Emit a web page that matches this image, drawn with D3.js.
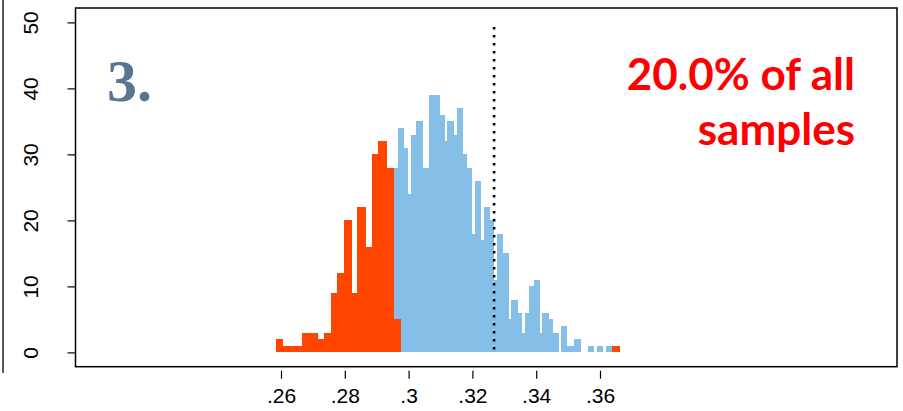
<!DOCTYPE html>
<html><head><meta charset="utf-8">
<script src="https://cdn.jsdelivr.net/npm/d3@7"></script>
<style>html,body{margin:0;padding:0;background:#fff;}svg{display:block;}</style>
</head><body>
<svg id="chart" width="903" height="411"></svg>
<script>
// bin edges (x, proportion) and counts per bin
const binEdges = [0.25834,0.26072,0.26668,0.27169,0.27348,0.27552,0.27765,0.27984,0.28241,0.28392,
  0.28665,0.28843,0.29050,0.29313,0.29542,0.29658,0.29752,0.29856,0.29981,0.30075,
  0.30232,0.30436,0.30649,0.30984,0.31141,0.31219,0.31423,0.31502,0.31715,0.31846,
  0.32003,0.32088,0.32279,0.32370,0.32558,0.32671,0.32781,0.32959,0.33132,0.33210,
  0.33414,0.33564,0.33639,0.33784,0.33922,0.34119,0.34197,0.34392,0.34542,0.34705,
  0.34777,0.34981,0.35185,0.35389,0.35624,0.35821,0.35906,0.36100,0.36194,0.36382,0.36627];
const allCounts = [2,1,3,2,3,9,12,20,9,22, 16,30,32,28,28,34,34,31,24,33,
  35,28,39,36,32,35,33,37,30,28, 18,26,17,22,20,11,18,15,5,8,
  6,3,6,10,11,3,6,5,3,0, 4,1,2,0,1,0,1,0,1,1];
const tailCounts = [2,1,3,2,3,9,12,20,9,22, 16,30,32,28,5,5,0,0,0,0,
  0,0,0,0,0,0,0,0,0,0, 0,0,0,0,0,0,0,0,0,0,
  0,0,0,0,0,0,0,0,0,0, 0,0,0,0,0,0,0,0,0,1];
const cutoff = 0.3268;
const cutoffTop = 49.3;
const xTicks = [0.26,0.28,0.30,0.32,0.34,0.36];
const xTickLabels = [".26",".28",".3",".32",".34",".36"];
const yTicks = [0,10,20,30,40,50];
const panelLabel = "3.";
const noteLines = ["20.0% of all","samples"];

const svg = d3.select("#chart");
const box = {left:75.5, right:897, top:8, bottom:366.7};
const x = d3.scaleLinear().domain([0.26,0.36]).range([281,600]);
const y = d3.scaleLinear().domain([0,50]).range([352.4,22.4]);

// outer frame fragment
svg.append("line").attr("x1",3).attr("x2",3).attr("y1",0).attr("y2",373)
  .attr("stroke","#000").attr("stroke-width",1.3);

const bins = allCounts.map((c,i)=>({x0:binEdges[i], x1:binEdges[i+1], all:c, tail:tailCounts[i]}));

svg.append("g").selectAll("rect").data(bins.filter(d=>d.all>0)).join("rect")
  .attr("x",d=>x(d.x0)).attr("width",d=>x(d.x1)-x(d.x0))
  .attr("y",d=>y(d.all)).attr("height",d=>y(0)-y(d.all))
  .attr("fill","#85bfe8").attr("shape-rendering","crispEdges");
svg.append("g").selectAll("rect").data(bins.filter(d=>d.tail>0)).join("rect")
  .attr("x",d=>x(d.x0)).attr("width",d=>x(d.x1)-x(d.x0))
  .attr("y",d=>y(d.tail)).attr("height",d=>y(0)-y(d.tail))
  .attr("fill","#ff4500").attr("shape-rendering","crispEdges");

// dotted cutoff line
svg.append("line").attr("x1",x(cutoff)).attr("x2",x(cutoff))
  .attr("y1",y(cutoffTop)).attr("y2",y(0))
  .attr("stroke","#000").attr("stroke-width",2.6).attr("stroke-dasharray","2.6,5.4");

// box
svg.append("rect").attr("x",box.left).attr("y",box.top)
  .attr("width",box.right-box.left).attr("height",box.bottom-box.top)
  .attr("fill","none").attr("stroke","#000").attr("stroke-width",1.5);

// x axis
const xAxis = d3.axisBottom(x).tickValues(xTicks).tickSize(8)
  .tickFormat((d,i)=>xTickLabels[i]);
const gx = svg.append("g").attr("transform",`translate(0,${box.bottom})`).call(xAxis);
gx.select(".domain").remove();
gx.selectAll(".tick line").attr("stroke","#000").attr("stroke-width",1.2).attr("y1",4).attr("y2",12);
gx.selectAll(".tick text").attr("y",null).attr("dy",null).attr("transform","translate(0,36)")
  .attr("font-family","Liberation Sans, Arial, sans-serif").attr("font-size",21).attr("fill","#000");

// y axis
const yAxis = d3.axisLeft(y).tickValues(yTicks).tickSize(8);
const gy = svg.append("g").attr("transform",`translate(${box.left},0)`).call(yAxis);
gy.select(".domain").remove();
gy.selectAll(".tick line").attr("stroke","#000").attr("stroke-width",1.2);
gy.selectAll(".tick text").attr("x",null).attr("dy",null)
  .attr("transform","translate(-38,0) rotate(-90)").attr("text-anchor","middle")
  .attr("font-family","Liberation Sans, Arial, sans-serif").attr("font-size",21).attr("fill","#000");

// panel label
svg.append("text").attr("x",107).attr("y",101).text(panelLabel)
  .attr("font-family","Liberation Serif, DejaVu Serif, serif").attr("font-weight","bold")
  .attr("font-size",60).attr("fill","#5a7593");

// annotation
svg.append("text").attr("text-anchor","end")
  .attr("font-family","Lato, Open Sans, sans-serif").attr("font-weight","bold")
  .attr("font-size",44).attr("fill","#ff0000")
  .selectAll("tspan").data(noteLines).join("tspan")
  .attr("x",855).attr("y",(d,i)=>90+i*55).text(d=>d);
</script>
</body></html>
